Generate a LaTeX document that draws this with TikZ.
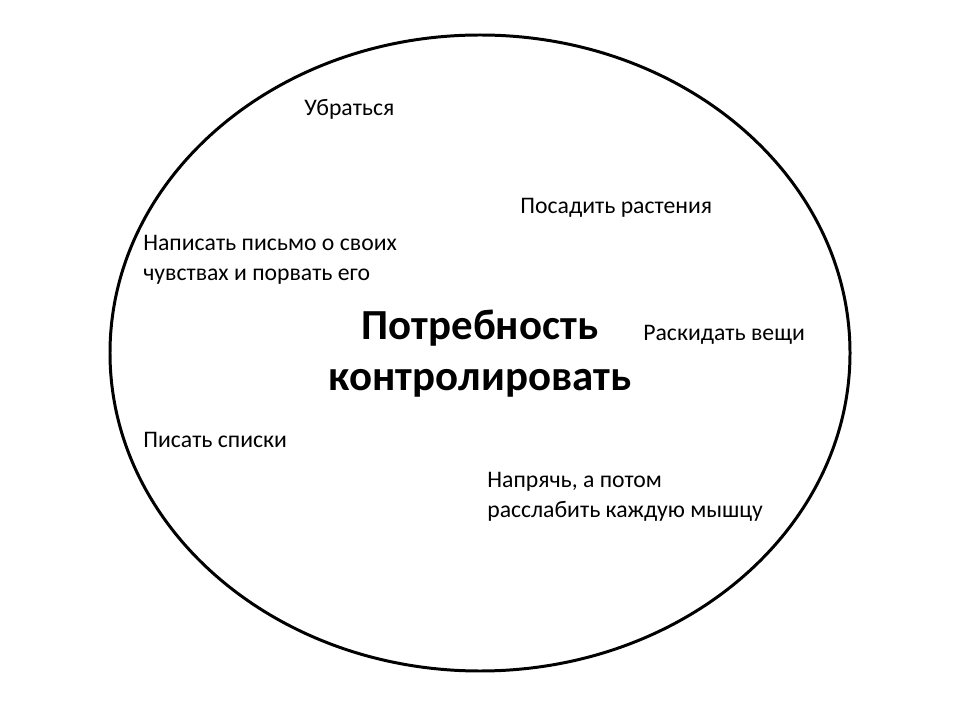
\documentclass[tikz,border=0pt]{standalone}
\usepackage{fontspec}
\setmainfont{Carlito}
\usetikzlibrary{positioning}

\begin{document}
\begin{tikzpicture}[
  idea/.style={anchor=west,inner sep=0pt,align=left,
               font=\fontsize{13.5}{17}\selectfont},
  core/.style={inner sep=0pt,align=center,
               font=\fontsize{24.4}{29}\selectfont\bfseries},
]
  \useasboundingbox (0,0) rectangle (19.2,14.4);

  % the big oval
  \draw[line width=1.7pt] (9.6,7.34) ellipse[x radius=7.4, y radius=6.36];

  \node[core] (need) at (9.6,7.32) {Потребность\\контролировать};

  \node[idea] (clean)  at (6.08,12.22) {Убраться};
  \node[idea] (plants) at (10.4,10.24) {Посадить растения};
  \node[idea] (letter) at (2.86,9.2)   {Написать письмо о своих\\чувствах и порвать его};
  \node[idea] (throw)  at (12.86,7.7)  {Раскидать вещи};
  \node[idea] (lists)  at (2.86,5.6)   {Писать списки};
  \node[idea] (muscle) at (9.74,4.46)  {Напрячь, а потом\\расслабить каждую мышцу};
\end{tikzpicture}
\end{document}
